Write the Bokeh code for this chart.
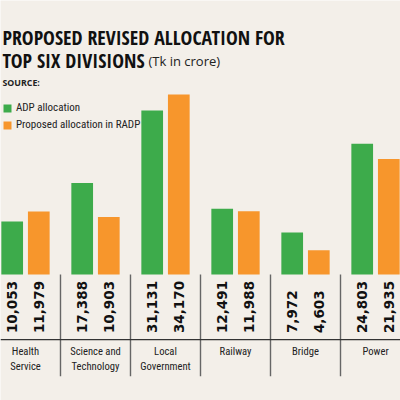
import math
from bokeh.plotting import figure
from bokeh.models import Range1d, Label, Legend, LegendItem, ColumnDataSource
from bokeh.core.properties import value
from bokeh.embed import file_html
from bokeh.resources import INLINE

# ---- data ----
categories = ["Health\nService", "Science and\nTechnology", "Local\nGovernment",
              "Railway", "Bridge", "Power"]
adp = [10053, 17388, 31131, 12491, 7972, 24803]
radp = [11979, 10903, 34170, 11988, 4603, 21935]
series_names = ["ADP allocation", "Proposed allocation in RADP"]

# ---- style ----
BG = "#f3efe9"
GREEN = "#3dab4b"
ORANGE = "#f7962c"
TITLE_FONT = "Open Sans Condensed"
COND = "Roboto Condensed"
W = H = 400

idx = list(range(len(categories)))
off = 0.19
bw = 0.31

src = ColumnDataSource(dict(
    xg=[i - off for i in idx], xo=[i + off for i in idx],
    adp=adp, radp=radp,
    adp_lab=[f"{v:,}" for v in adp], radp_lab=[f"{v:,}" for v in radp],
    xc=idx, cat=categories,
))

p = figure(width=W, height=H, output_backend="svg", toolbar_location=None,
           x_range=Range1d(-0.357, 5.357), y_range=Range1d(-23900, 52000),
           x_axis_type=None, y_axis_type=None,
           min_border=0, min_border_left=0, min_border_right=0,
           min_border_top=0, min_border_bottom=0,
           background_fill_color=BG, border_fill_color=BG,
           outline_line_color=None)
p.grid.visible = False

r1 = p.vbar(x="xg", top="adp", bottom=0, width=bw, source=src,
            fill_color=GREEN, line_color=None)
r2 = p.vbar(x="xo", top="radp", bottom=0, width=bw, source=src,
            fill_color=ORANGE, line_color=None)

# value labels (rotated)
for xcol, lcol in (("xg", "adp_lab"), ("xo", "radp_lab")):
    p.text(x=xcol, y=-11100, text=lcol, source=src, angle=math.pi / 2,
           text_align="left", text_baseline="middle",
           text_font=value("DejaVu Sans"), text_font_style="bold",
           text_font_size="13.5px", text_color="#111111")

# separators
seps = [i + 0.5 for i in idx[:-1]]
p.segment(x0=seps, y0=[0] * len(seps), x1=seps, y1=[-19300] * len(seps),
          line_color="#666666", line_width=1.4)
p.segment(x0=[-0.357], y0=[-12350], x1=[5.357], y1=[-12350],
          line_color="#333333", line_width=1.4)

# category labels
p.text(x="xc", y=-13450, text="cat", source=src, text_align="center",
       text_baseline="top", text_font=value(COND), text_font_size="10.6px",
       text_line_height=1.12, text_color="#222222")

# legend
legend = Legend(items=[LegendItem(label=series_names[0], renderers=[r1]),
                       LegendItem(label=series_names[1], renderers=[r2])],
                location=(2, 269), orientation="vertical",
                glyph_width=10, glyph_height=10, label_height=10,
                label_standoff=4, spacing=4, padding=0, margin=0,
                label_text_font=COND, label_text_font_size="11px",
                label_text_color="#222222",
                background_fill_alpha=0, border_line_color=None)
p.add_layout(legend)

# titles
p.add_layout(Label(x=2, y=363.5, x_units="screen", y_units="screen",
                   text="PROPOSED REVISED ALLOCATION FOR",
                   text_font=TITLE_FONT, text_font_style="bold",
                   text_font_size="19.8px", text_baseline="alphabetic",
                   text_color="#111111"))
p.add_layout(Label(x=2, y=340, x_units="screen", y_units="screen",
                   text="TOP SIX DIVISIONS",
                   text_font=TITLE_FONT, text_font_style="bold",
                   text_font_size="19.8px", text_baseline="alphabetic",
                   text_color="#111111"))
p.add_layout(Label(x=148, y=340, x_units="screen", y_units="screen",
                   text="(Tk in crore)",
                   text_font="Open Sans", text_font_size="13px",
                   text_baseline="alphabetic", text_color="#222222"))
p.add_layout(Label(x=2, y=318, x_units="screen", y_units="screen",
                   text="SOURCE:",
                   text_font="Open Sans", text_font_style="bold",
                   text_font_size="8.8px", text_baseline="alphabetic",
                   text_color="#222222"))

open("out.html", "w").write(file_html(p, INLINE))
